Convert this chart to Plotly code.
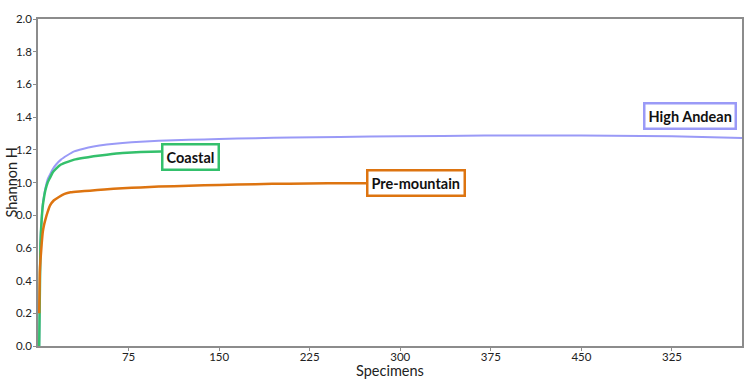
import plotly.graph_objects as go

# ---- data ----
andean_n = [1, 2, 3, 4, 5, 6, 8, 10, 12, 15, 19, 24, 30, 37, 46, 57, 70, 85, 100, 125, 150,
            180, 210, 250, 300, 370, 450, 500, 550, 583]
andean_h = [0.0, 0.63, 0.78, 0.87, 0.92, 0.96, 1.02, 1.05, 1.08, 1.11, 1.14, 1.165, 1.19, 1.205,
            1.22, 1.232, 1.242, 1.249, 1.255, 1.261, 1.266, 1.271, 1.275, 1.279, 1.283, 1.287,
            1.287, 1.285, 1.279, 1.272]

coastal_n = [1, 2, 3, 4, 5, 6, 8, 10, 12, 15, 19, 24, 30, 37, 46, 57, 70, 85, 102]
coastal_h = [0.0, 0.62, 0.77, 0.86, 0.91, 0.95, 1.0, 1.03, 1.06, 1.085, 1.11, 1.125, 1.14, 1.15,
             1.16, 1.17, 1.18, 1.186, 1.19]

premount_n = [1, 1.5, 2, 3, 4, 5, 6, 8, 10, 13, 17, 22, 27, 34, 43, 55, 70, 85, 100, 125, 150,
              180, 208, 240, 272]
premount_h = [0.2, 0.45, 0.52, 0.62, 0.7, 0.74, 0.77, 0.82, 0.86, 0.89, 0.91, 0.93, 0.94, 0.945,
              0.95, 0.957, 0.965, 0.97, 0.975, 0.98, 0.985, 0.99, 0.993, 0.995, 0.995]

x_tickvals = [75, 150, 225, 300, 375, 450, 525]
x_ticktext = ["75", "150", "225", "300", "375", "450", "325"]
y_tickvals = [0.0, 0.2, 0.4, 0.6, 0.8, 1.0, 1.2, 1.4, 1.6, 1.8, 2.0]
y_ticktext = ["0.0", "0.2", "0.4", "0.6", "0.0", "1.0", "1.2", "1.4", "1.6", "1.8", "2.0"]

BLUE = "#9a9af7"
GREEN = "#34c06c"
ORANGE = "#dd7410"
FONT = "Lato"
TXT = "#222222"

fig = go.Figure()
fig.add_trace(go.Scatter(x=andean_n, y=andean_h, mode="lines", name="High Andean",
                         line=dict(color=BLUE, width=2, shape="spline", smoothing=0.4)))
fig.add_trace(go.Scatter(x=coastal_n, y=coastal_h, mode="lines", name="Coastal",
                         line=dict(color=GREEN, width=2.5, shape="spline", smoothing=0.4)))
fig.add_trace(go.Scatter(x=premount_n, y=premount_h, mode="lines", name="Pre-mountain",
                         line=dict(color=ORANGE, width=2.5, shape="spline", smoothing=0.4)))

def label(text, x, y, color, yshift=0, xanchor="left", xshift=0):
    fig.add_annotation(x=x, y=y, text="<b>%s</b>" % text, showarrow=False,
                       xanchor=xanchor, yanchor="middle", xshift=xshift, yshift=yshift,
                       font=dict(family=FONT, size=14.5, color="#111111"),
                       bgcolor="white", bordercolor=color, borderwidth=2.5, borderpad=3)

label("Coastal", coastal_n[-1], coastal_h[-1], GREEN, yshift=-6)
label("Pre-mountain", premount_n[-1], premount_h[-1], ORANGE)
label("High Andean", andean_n[-1], andean_h[-1], BLUE, yshift=22, xanchor="right", xshift=-5)

# axis titles as paper annotations (placed like the reference)
fig.add_annotation(xref="paper", yref="paper", x=0.5, y=0, yshift=-24, yanchor="middle",
                   text="Specimens", showarrow=False, font=dict(family=FONT, size=14.5, color=TXT))
fig.add_annotation(xref="paper", yref="paper", x=0, y=0.5, xshift=-27, xanchor="center",
                   yanchor="middle", text="Shannon H", textangle=-90, showarrow=False,
                   font=dict(family=FONT, size=14.5, color=TXT))

axis_common = dict(showgrid=False, zeroline=False, showline=True, linecolor="#8c8c8c",
                   linewidth=1.5, mirror=True, ticks="outside", ticklen=3, tickcolor="#8c8c8c",
                   automargin=False,
                   tickfont=dict(family=FONT, size=11.5, color=TXT))

fig.update_xaxes(range=[0, 583], tickvals=x_tickvals, ticktext=x_ticktext,
                 ticklabelstandoff=-4, **axis_common)
fig.update_yaxes(range=[0, 2.0], tickvals=y_tickvals, ticktext=y_ticktext,
                 ticklabelstandoff=-1, **axis_common)

fig.update_layout(width=750, height=384, margin=dict(l=38, r=8, t=19, b=38),
                  paper_bgcolor="white", plot_bgcolor="white", showlegend=False,
                  font=dict(family=FONT))

fig.write_html("out.html")
